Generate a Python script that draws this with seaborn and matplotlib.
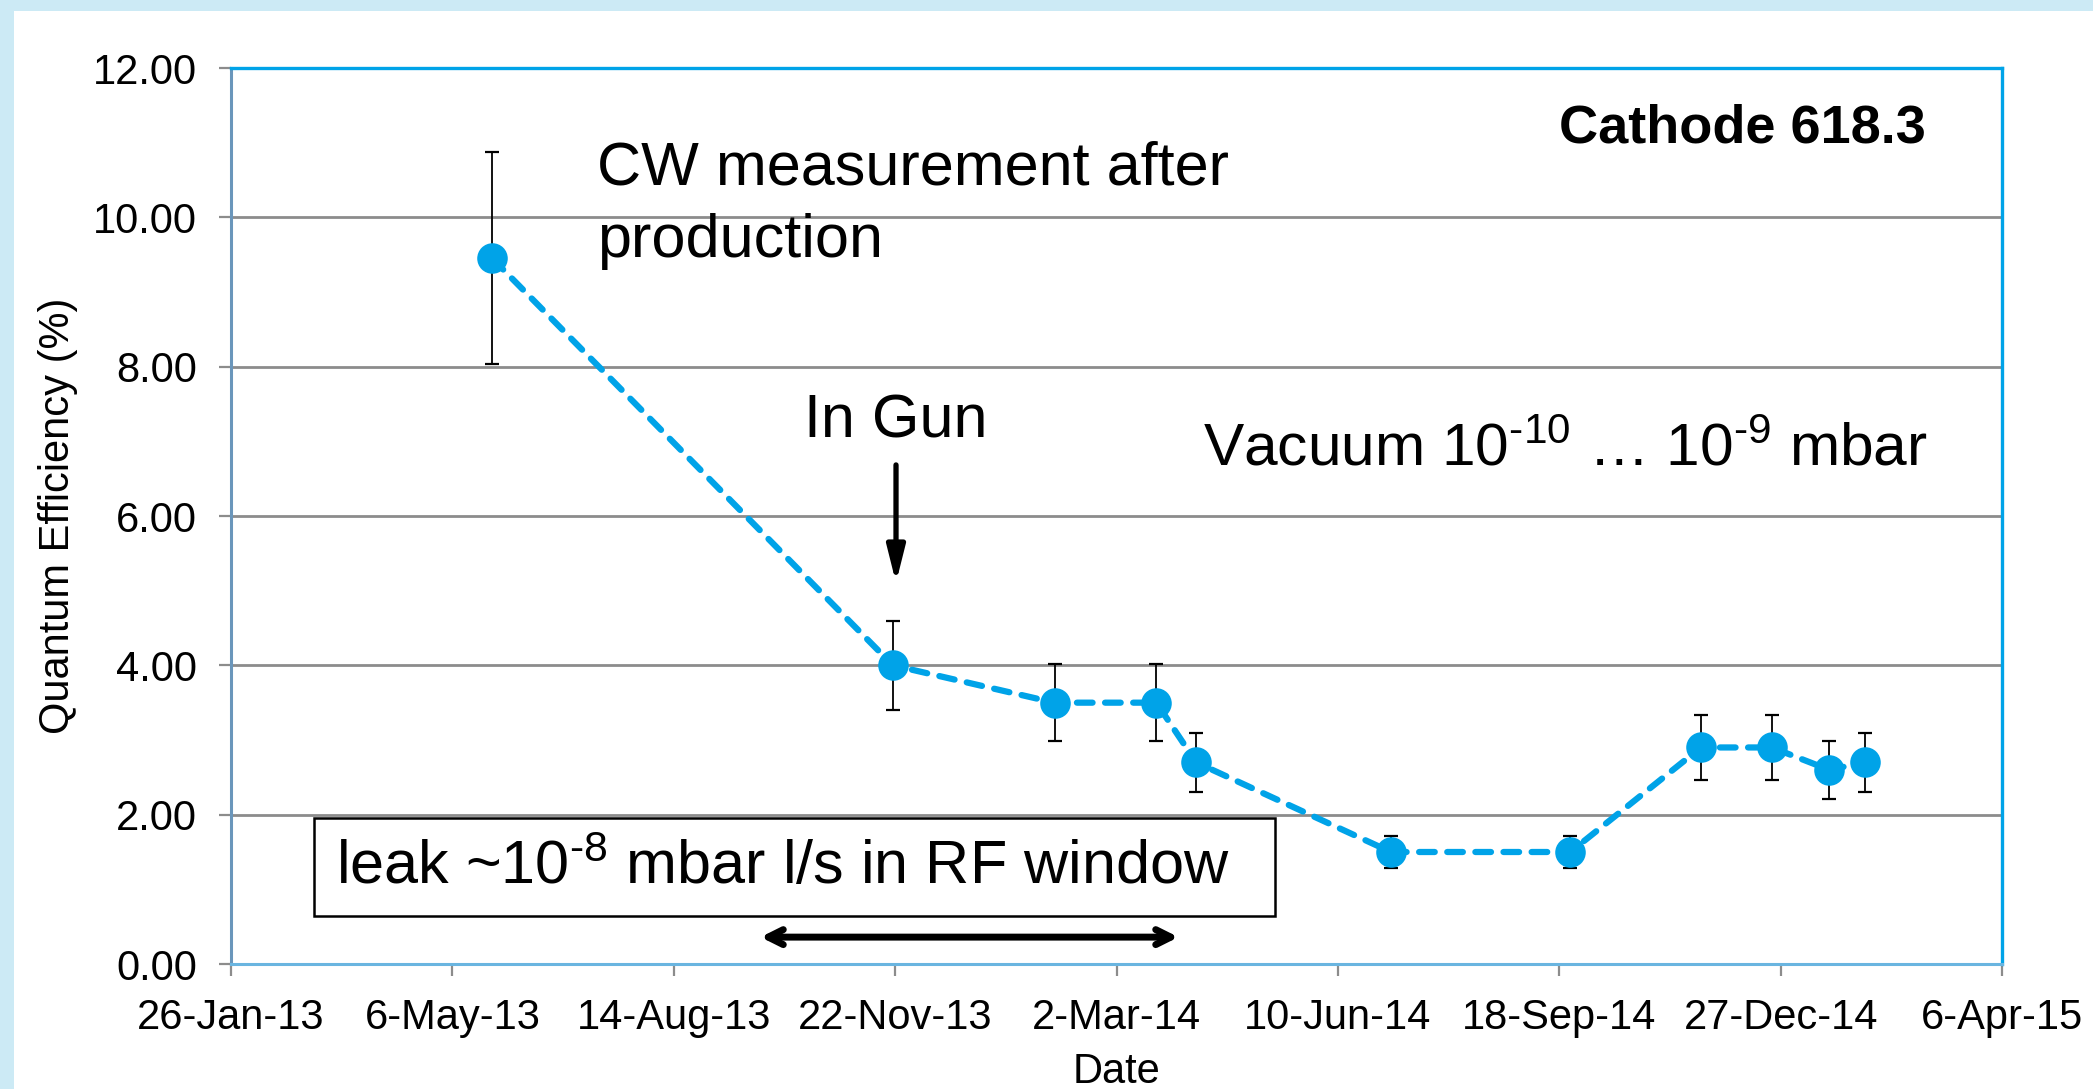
import matplotlib
matplotlib.use("Agg")
import matplotlib.pyplot as plt
import matplotlib.patches as mpatches
import numpy as np
import pandas as pd
import seaborn as sns

# ---- data ----
meas_dates = ["2013-05-24", "2013-11-21", "2014-02-02", "2014-03-20", "2014-04-07",
              "2014-07-04", "2014-09-23", "2014-11-21", "2014-12-23", "2015-01-18",
              "2015-02-03"]
qe_values = [9.45, 4.00, 3.50, 3.50, 2.70, 1.50, 1.50, 2.90, 2.90, 2.60, 2.70]
qe_errors = [1.42, 0.60, 0.52, 0.52, 0.40, 0.22, 0.22, 0.44, 0.44, 0.39, 0.40]

x_tick_dates = ["2013-01-26", "2013-05-06", "2013-08-14", "2013-11-22", "2014-03-02",
                "2014-06-10", "2014-09-18", "2014-12-27", "2015-04-06"]
x_tick_labels = ["26-Jan-13", "6-May-13", "14-Aug-13", "22-Nov-13", "2-Mar-14",
                 "10-Jun-14", "18-Sep-14", "27-Dec-14", "6-Apr-15"]
y_ticks = [0, 2, 4, 6, 8, 10, 12]
y_tick_labels = ["0.00", "2.00", "4.00", "6.00", "8.00", "10.00", "12.00"]

df = pd.DataFrame({"Date": pd.to_datetime(meas_dates), "QE": qe_values, "err": qe_errors})

# ---- style ----
sns.set_theme(style="white")
plt.rcParams["font.family"] = ["Liberation Sans", "DejaVu Sans"]
plt.rcParams["mathtext.fontset"] = "custom"
plt.rcParams["mathtext.rm"] = "Liberation Sans"
plt.rcParams["mathtext.it"] = "Liberation Sans:italic"
plt.rcParams["mathtext.bf"] = "Liberation Sans:bold"
plt.rcParams["text.color"] = "black"
plt.rcParams["axes.labelcolor"] = "black"
plt.rcParams["xtick.color"] = "black"
plt.rcParams["ytick.color"] = "black"

BLUE = "#00a3e8"
GRID = "#8c8c8c"

fig = plt.figure(figsize=(20.93, 10.89), dpi=100)
fig.patch.set_facecolor("#cceaf5")
fig.add_artist(mpatches.Rectangle((14 / 2093, 0), 1, 1 - 11 / 1089,
                                  transform=fig.transFigure, facecolor="white",
                                  edgecolor="none", zorder=-10))
ax = fig.add_axes([231 / 2093, 1 - 964 / 1089, (2002 - 231) / 2093, (964 - 68) / 1089])
ax.set_facecolor("white")

# error bars
ax.errorbar(df["Date"], df["QE"], yerr=df["err"], fmt="none", ecolor="black",
            elinewidth=1.3, capsize=4.8, capthick=1.6, zorder=3)

# line with markers
sns.lineplot(data=df, x="Date", y="QE", ax=ax, color=BLUE, linewidth=4.5,
             marker="o", markersize=22, markeredgewidth=0, markerfacecolor=BLUE,
             dashes=False, zorder=4)
line = ax.lines[-1]
line.set_linestyle((0, (2.5, 2.0)))
line.set_dash_capstyle("round")

# axes
ax.set_xlim(pd.Timestamp(x_tick_dates[0]), pd.Timestamp(x_tick_dates[-1]))
ax.set_ylim(0, 12)
ax.set_xticks(pd.to_datetime(x_tick_dates))
ax.set_xticklabels(x_tick_labels)
ax.set_yticks(y_ticks)
ax.set_yticklabels(y_tick_labels)
ax.yaxis.grid(True, color=GRID, linewidth=2.0, zorder=0)
ax.xaxis.grid(False)
ax.set_axisbelow(True)

ax.tick_params(axis="both", which="major", direction="out", length=8.5, width=1.6,
               color=GRID, labelsize=30, labelcolor="black", pad=16)
ax.tick_params(axis="x", bottom=True)
ax.tick_params(axis="y", left=True)

ax.set_xlabel("Date", fontsize=30, labelpad=10)
ax.set_ylabel("Quantum Efficiency (%)", fontsize=30, labelpad=11)

for s in ["top", "right"]:
    ax.spines[s].set_color(BLUE)
    ax.spines[s].set_linewidth(2.4)
ax.spines["left"].set_color("#6a96bb")
ax.spines["left"].set_linewidth(2.2)
ax.spines["bottom"].set_color("#6ab5e0")
ax.spines["bottom"].set_linewidth(2.2)

# ---- annotations ----
ax.text(0.2067, 0.847, "CW measurement after\nproduction", transform=ax.transAxes,
        fontsize=44, ha="left", va="center", linespacing=1.35)
ax.text(0.3755, 0.605, "In Gun", transform=ax.transAxes, fontsize=44,
        ha="center", va="center")
ax.annotate("", xy=(0.3755, 0.4253), xytext=(0.3755, 0.557),
            xycoords="axes fraction", textcoords="axes fraction",
            arrowprops=dict(arrowstyle="-|>,head_length=1.8,head_width=0.45",
                            color="black", lw=3.8, shrinkA=0, shrinkB=0))
ax.text(0.5488, 0.5737, r"Vacuum 10$^{\text{-}10}$ … 10$^{\text{-}9}$ mbar",
        transform=ax.transAxes, fontsize=43.5, ha="left", va="center")
ax.text(0.957, 0.933, "Cathode 618.3", transform=ax.transAxes, fontsize=39,
        fontweight="bold", ha="right", va="center")

ax.add_patch(mpatches.Rectangle((0.0469, 0.0536), 0.5895 - 0.0469, 0.163 - 0.0536,
                                transform=ax.transAxes, facecolor="white",
                                edgecolor="black", linewidth=1.8, zorder=5))
ax.text(0.0593, 0.107, r"leak ~10$^{\text{-}8}$ mbar l/s in RF window",
        transform=ax.transAxes, fontsize=44, ha="left", va="center", zorder=6)
ax.annotate("", xy=(0.299, 0.030), xytext=(0.535, 0.030),
            xycoords="axes fraction", textcoords="axes fraction",
            arrowprops=dict(arrowstyle="<->,head_length=0.9,head_width=0.45",
                            color="black", lw=5, shrinkA=0, shrinkB=0,
                            capstyle="round", joinstyle="round"))

fig.savefig("out.png", dpi=100, facecolor=fig.get_facecolor())
